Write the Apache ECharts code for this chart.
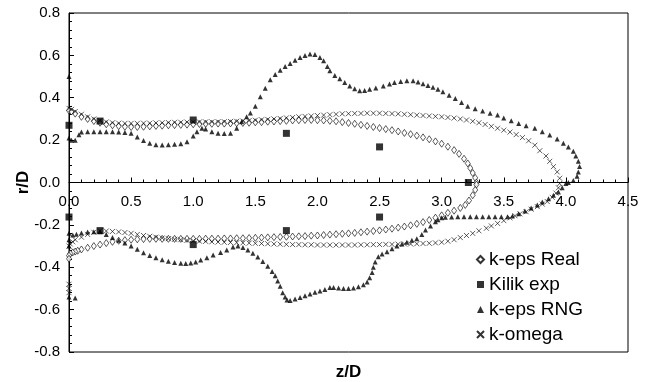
<!DOCTYPE html>
<html><head><meta charset="utf-8">
<script src="https://cdn.jsdelivr.net/npm/echarts@6/dist/echarts.min.js"></script>
<style>html,body{margin:0;padding:0;background:#fff}#c{width:645px;height:382px}</style>
</head><body><div id="c"></div>
<script>
// ---- data (z/D, r/D) ----
var xTicks = [0, 0.5, 1.0, 1.5, 2.0, 2.5, 3.0, 3.5, 4.0, 4.5];
var yTicks = [-0.8, -0.6, -0.4, -0.2, 0.0, 0.2, 0.4, 0.6, 0.8];
var seriesNames = ['k-eps Real', 'Kilik exp', 'k-eps RNG', 'k-omega'];

var kepsRealUpper = [[0,0.34],[0.02,0.335],[0.05,0.325],[0.1,0.31],[0.15,0.3],[0.2,0.29],[0.25,0.282],[0.3,0.275],[0.35,0.27],[0.4,0.266],[0.45,0.263],[0.5,0.262],[0.55,0.262],[0.6,0.263],[0.65,0.265],[0.7,0.267],[0.75,0.268],[0.8,0.27],[0.85,0.271],[0.9,0.272],[0.95,0.273],[1.0,0.275],[1.05,0.276],[1.1,0.277],[1.15,0.277],[1.2,0.278],[1.25,0.278],[1.3,0.279],[1.35,0.28],[1.4,0.281],[1.45,0.282],[1.5,0.284],[1.55,0.285],[1.6,0.287],[1.65,0.288],[1.7,0.29],[1.75,0.291],[1.8,0.293],[1.85,0.294],[1.9,0.295],[1.95,0.295],[2.0,0.294],[2.05,0.293],[2.1,0.291],[2.15,0.289],[2.2,0.285],[2.25,0.281],[2.3,0.277],[2.35,0.272],[2.4,0.267],[2.45,0.262],[2.5,0.257],[2.55,0.252],[2.6,0.247],[2.65,0.241],[2.7,0.234],[2.75,0.228],[2.8,0.221],[2.85,0.213],[2.9,0.204],[2.95,0.194],[3.0,0.183],[3.05,0.169],[3.1,0.153],[3.14,0.135],[3.18,0.112],[3.21,0.09],[3.23,0.068],[3.25,0.045],[3.27,0.022],[3.28,0.0]];
var kepsRealLower = [[3.28,-0.01],[3.27,-0.035],[3.25,-0.06],[3.22,-0.085],[3.19,-0.106],[3.15,-0.12],[3.1,-0.133],[3.05,-0.143],[3.0,-0.155],[2.95,-0.166],[2.9,-0.177],[2.85,-0.187],[2.8,-0.195],[2.75,-0.202],[2.7,-0.208],[2.65,-0.213],[2.6,-0.218],[2.55,-0.222],[2.5,-0.226],[2.45,-0.229],[2.4,-0.232],[2.35,-0.235],[2.3,-0.238],[2.25,-0.24],[2.2,-0.242],[2.15,-0.244],[2.1,-0.246],[2.05,-0.248],[2.0,-0.25],[1.95,-0.251],[1.9,-0.253],[1.85,-0.254],[1.8,-0.255],[1.75,-0.256],[1.7,-0.257],[1.65,-0.258],[1.6,-0.259],[1.55,-0.26],[1.5,-0.261],[1.45,-0.262],[1.4,-0.263],[1.35,-0.263],[1.3,-0.264],[1.25,-0.264],[1.2,-0.265],[1.15,-0.265],[1.1,-0.265],[1.05,-0.266],[1.0,-0.266],[0.95,-0.266],[0.9,-0.266],[0.85,-0.266],[0.8,-0.266],[0.75,-0.266],[0.7,-0.266],[0.65,-0.266],[0.6,-0.267],[0.55,-0.268],[0.5,-0.27],[0.45,-0.272],[0.4,-0.275],[0.35,-0.28],[0.3,-0.286],[0.25,-0.293],[0.2,-0.3],[0.15,-0.308],[0.1,-0.316],[0.07,-0.322],[0.05,-0.326],[0.03,-0.33],[0.01,-0.335],[0,-0.345],[0,-0.36]];

var kilikExp = [[0,0.27],[0.25,0.29],[1.0,0.295],[1.75,0.232],[2.5,0.168],[3.215,0.0],[0,-0.163],[0.25,-0.227],[1.0,-0.293],[1.75,-0.227],[2.5,-0.163]];

var rngUpper = [[0,0.5],[0,0.21],[0.02,0.2],[0.05,0.2],[0.08,0.225],[0.1,0.238],[0.15,0.24],[0.2,0.24],[0.25,0.24],[0.3,0.24],[0.35,0.24],[0.4,0.238],[0.45,0.236],[0.5,0.232],[0.55,0.215],[0.6,0.198],[0.65,0.185],[0.7,0.178],[0.75,0.177],[0.8,0.178],[0.85,0.18],[0.9,0.183],[0.95,0.192],[1.0,0.22],[1.03,0.24],[1.07,0.256],[1.1,0.252],[1.15,0.24],[1.2,0.233],[1.25,0.231],[1.3,0.233],[1.35,0.256],[1.39,0.287],[1.43,0.31],[1.46,0.328],[1.5,0.36],[1.54,0.405],[1.58,0.445],[1.62,0.485],[1.66,0.51],[1.7,0.53],[1.74,0.547],[1.78,0.562],[1.82,0.577],[1.86,0.59],[1.9,0.6],[1.94,0.606],[1.98,0.604],[2.02,0.59],[2.05,0.575],[2.08,0.548],[2.1,0.527],[2.14,0.505],[2.18,0.49],[2.22,0.472],[2.26,0.455],[2.3,0.442],[2.34,0.433],[2.38,0.434],[2.42,0.44],[2.47,0.446],[2.53,0.455],[2.58,0.465],[2.62,0.472],[2.67,0.477],[2.72,0.48],[2.77,0.48],[2.81,0.474],[2.85,0.466],[2.89,0.458],[2.93,0.45],[2.97,0.44],[3.01,0.428],[3.06,0.412],[3.11,0.397],[3.16,0.378],[3.21,0.36],[3.27,0.348],[3.33,0.337],[3.39,0.327],[3.45,0.318],[3.5,0.305],[3.56,0.292],[3.62,0.279],[3.68,0.268],[3.75,0.256],[3.81,0.24],[3.87,0.224],[3.93,0.205],[3.98,0.185],[4.02,0.168],[4.06,0.148],[4.08,0.125],[4.1,0.1],[4.11,0.075],[4.1,0.05],[4.09,0.03],[4.06,0.01]];
var rngLower = [[4.02,0.0],[4.0,-0.005],[3.97,-0.025],[3.94,-0.045],[3.9,-0.06],[3.86,-0.077],[3.81,-0.092],[3.77,-0.106],[3.72,-0.12],[3.67,-0.135],[3.62,-0.148],[3.57,-0.158],[3.53,-0.162],[3.48,-0.162],[3.43,-0.162],[3.38,-0.162],[3.33,-0.162],[3.28,-0.162],[3.23,-0.162],[3.18,-0.162],[3.13,-0.162],[3.08,-0.163],[3.03,-0.164],[3.0,-0.166],[2.97,-0.176],[2.95,-0.185],[2.91,-0.205],[2.87,-0.224],[2.84,-0.245],[2.8,-0.265],[2.76,-0.273],[2.72,-0.282],[2.68,-0.29],[2.64,-0.3],[2.6,-0.313],[2.56,-0.327],[2.52,-0.337],[2.49,-0.35],[2.465,-0.375],[2.45,-0.4],[2.44,-0.425],[2.42,-0.45],[2.4,-0.47],[2.37,-0.483],[2.33,-0.492],[2.29,-0.498],[2.25,-0.5],[2.21,-0.5],[2.17,-0.498],[2.13,-0.496],[2.1,-0.496],[2.06,-0.505],[2.02,-0.512],[1.98,-0.518],[1.94,-0.526],[1.9,-0.535],[1.86,-0.543],[1.82,-0.55],[1.78,-0.557],[1.755,-0.555],[1.74,-0.54],[1.72,-0.52],[1.7,-0.49],[1.68,-0.465],[1.66,-0.44],[1.635,-0.42],[1.6,-0.395],[1.56,-0.373],[1.52,-0.352],[1.48,-0.334],[1.44,-0.318],[1.4,-0.307],[1.36,-0.3],[1.32,-0.305],[1.27,-0.318],[1.22,-0.33],[1.16,-0.342],[1.11,-0.355],[1.06,-0.366],[1.02,-0.375],[0.98,-0.38],[0.94,-0.382],[0.9,-0.381],[0.85,-0.378],[0.8,-0.372],[0.75,-0.365],[0.7,-0.355],[0.65,-0.345],[0.6,-0.332],[0.55,-0.315],[0.5,-0.3],[0.45,-0.285],[0.4,-0.272],[0.35,-0.26],[0.3,-0.245],[0.25,-0.232],[0.2,-0.232],[0.15,-0.234],[0.1,-0.238],[0.06,-0.244],[0.03,-0.248],[0,-0.24],[0,-0.27],[0,-0.3],[0,-0.54],[0.05,-0.545]];

var omegaUpper = [[0,0.35],[0.02,0.345],[0.05,0.335],[0.1,0.322],[0.15,0.31],[0.2,0.3],[0.25,0.292],[0.3,0.286],[0.35,0.282],[0.4,0.28],[0.45,0.279],[0.5,0.279],[0.55,0.279],[0.6,0.28],[0.65,0.28],[0.7,0.281],[0.75,0.282],[0.8,0.283],[0.85,0.284],[0.9,0.284],[0.95,0.285],[1.0,0.285],[1.05,0.286],[1.1,0.286],[1.15,0.286],[1.2,0.287],[1.25,0.287],[1.3,0.288],[1.35,0.289],[1.4,0.29],[1.45,0.292],[1.5,0.294],[1.55,0.296],[1.6,0.298],[1.65,0.3],[1.7,0.302],[1.75,0.305],[1.8,0.307],[1.85,0.31],[1.9,0.312],[1.95,0.314],[2.0,0.316],[2.05,0.318],[2.1,0.32],[2.15,0.322],[2.2,0.324],[2.25,0.325],[2.3,0.326],[2.35,0.326],[2.4,0.327],[2.45,0.327],[2.5,0.327],[2.55,0.326],[2.6,0.325],[2.65,0.324],[2.7,0.322],[2.75,0.32],[2.8,0.318],[2.85,0.316],[2.9,0.314],[2.95,0.312],[3.0,0.31],[3.05,0.307],[3.1,0.304],[3.15,0.3],[3.2,0.295],[3.25,0.289],[3.3,0.282],[3.35,0.274],[3.4,0.265],[3.45,0.256],[3.5,0.247],[3.55,0.238],[3.6,0.226],[3.65,0.212],[3.7,0.197],[3.75,0.176],[3.79,0.15],[3.84,0.125],[3.87,0.1],[3.9,0.075],[3.93,0.05],[3.95,0.02]];
var omegaLower = [[3.95,-0.005],[3.94,-0.025],[3.92,-0.05],[3.89,-0.07],[3.85,-0.09],[3.81,-0.102],[3.77,-0.114],[3.72,-0.126],[3.68,-0.138],[3.63,-0.148],[3.59,-0.157],[3.55,-0.167],[3.5,-0.18],[3.45,-0.193],[3.4,-0.205],[3.36,-0.216],[3.3,-0.228],[3.25,-0.24],[3.2,-0.25],[3.15,-0.26],[3.1,-0.27],[3.05,-0.277],[3.0,-0.282],[2.95,-0.285],[2.9,-0.287],[2.85,-0.288],[2.8,-0.289],[2.75,-0.29],[2.7,-0.29],[2.65,-0.291],[2.6,-0.292],[2.55,-0.292],[2.5,-0.293],[2.45,-0.293],[2.4,-0.294],[2.35,-0.294],[2.3,-0.295],[2.25,-0.295],[2.2,-0.295],[2.15,-0.295],[2.1,-0.295],[2.05,-0.295],[2.0,-0.295],[1.95,-0.294],[1.9,-0.294],[1.85,-0.293],[1.8,-0.293],[1.75,-0.292],[1.7,-0.291],[1.65,-0.29],[1.6,-0.289],[1.55,-0.288],[1.5,-0.287],[1.45,-0.286],[1.4,-0.285],[1.35,-0.284],[1.3,-0.283],[1.25,-0.282],[1.2,-0.281],[1.15,-0.28],[1.1,-0.278],[1.05,-0.277],[1.0,-0.275],[0.95,-0.273],[0.9,-0.27],[0.85,-0.268],[0.8,-0.265],[0.75,-0.262],[0.7,-0.258],[0.65,-0.254],[0.6,-0.25],[0.55,-0.245],[0.5,-0.24],[0.45,-0.236],[0.4,-0.233],[0.35,-0.231],[0.3,-0.229],[0.25,-0.228],[0.2,-0.235],[0.15,-0.245],[0.1,-0.258],[0.05,-0.27],[0.03,-0.28],[0.01,-0.29],[0,-0.3],[0,-0.48],[0,-0.5],[0,-0.52]];

var FONT = 'Liberation Sans, Arial, Helvetica, sans-serif';
var chart = echarts.init(document.getElementById('c'), null, {renderer: 'canvas'});
var xMark = 'path://M0,0L10,10M10,0L0,10';
var gridTop = 13, gridBottom = 30, H = 382;
// the x axis crosses at r/D = 0, i.e. half way down the plot area
var zeroOffset = -((H - gridTop - gridBottom) / 2);
var option = {
  animation: false,
  backgroundColor: '#fff',
  grid: {left: 69, right: 17, top: gridTop, bottom: gridBottom, containLabel: false, outerBoundsMode: 'none',
         show: true, borderColor: '#000', borderWidth: 1, backgroundColor: 'transparent'},
  legend: {
    orient: 'vertical', left: 471, top: 245, itemGap: 6, itemWidth: 7, itemHeight: 7,
    textStyle: {fontFamily: FONT, fontSize: 19, color: '#000'},
    data: seriesNames
  },
  xAxis: {
    type: 'value', min: 0, max: 4.5, interval: 0.5, position: 'bottom', offset: zeroOffset,
    name: 'z/D', nameLocation: 'middle', nameGap: 181, nameMoveOverlap: false,
    nameTextStyle: {fontFamily: FONT, fontSize: 17, fontWeight: 'bold', color: '#000'},
    axisLine: {onZero: false, lineStyle: {color: '#000', width: 1}},
    axisTick: {inside: true, length: 5, lineStyle: {color: '#000'}},
    minorTick: {show: true, splitNumber: 5, length: 3, lineStyle: {color: '#000'}},
    axisLabel: {margin: 12, fontFamily: FONT, fontSize: 15, color: '#000', formatter: function (v) { return v.toFixed(1); }},
    splitLine: {show: false}
  },
  yAxis: {
    type: 'value', min: -0.8, max: 0.8, interval: 0.2,
    name: 'r/D', nameLocation: 'middle', nameGap: 37, nameRotate: 90, nameMoveOverlap: false,
    nameTextStyle: {fontFamily: FONT, fontSize: 17, fontWeight: 'bold', color: '#000'},
    axisLine: {onZero: false, lineStyle: {color: '#000', width: 1}},
    axisTick: {inside: true, length: 5, lineStyle: {color: '#000'}},
    minorTick: {show: true, splitNumber: 5, length: 3, lineStyle: {color: '#000'}},
    axisLabel: {margin: 9, fontFamily: FONT, fontSize: 15, color: '#000', formatter: function (v) { return v.toFixed(1); }},
    splitLine: {show: false}
  },
  series: [
    {name: seriesNames[0], type: 'scatter', symbol: 'diamond', symbolSize: [5, 7],
     itemStyle: {color: '#fff', borderColor: '#000', borderWidth: 0.8},
     data: kepsRealUpper.concat(kepsRealLower)},
    {name: seriesNames[3], type: 'scatter', symbol: xMark, symbolSize: 5,
     itemStyle: {color: 'rgba(0,0,0,0)', borderColor: '#000', borderWidth: 0.8},
     data: omegaUpper.concat(omegaLower)},
    {name: seriesNames[2], type: 'scatter', symbol: 'triangle', symbolSize: 5,
     itemStyle: {color: '#000'},
     data: rngUpper.concat(rngLower)},
    {name: seriesNames[1], type: 'scatter', symbol: 'rect', symbolSize: 7,
     itemStyle: {color: '#000'}, z: 5,
     data: kilikExp}
  ]
};
chart.setOption(option);
</script>
</body></html>
